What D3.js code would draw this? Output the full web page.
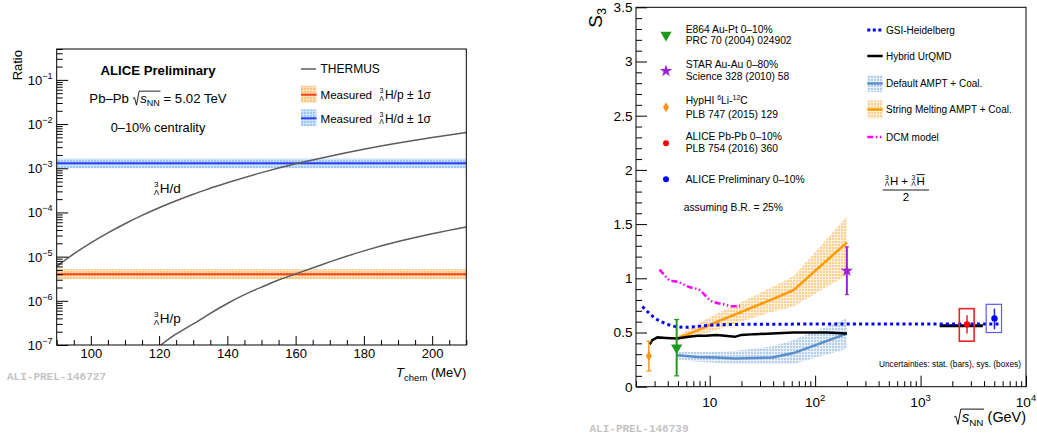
<!DOCTYPE html>
<html><head><meta charset="utf-8">
<script src="https://cdn.jsdelivr.net/npm/d3@7"></script>
<style>
body{margin:0;background:#fff}
svg{display:block;font-family:"Liberation Sans",Arial,Helvetica,sans-serif}
</style>
</head><body>
<svg id="c" width="1037" height="442"></svg>
<script>
// ================= LEFT PANEL DATA =================
const tHd = [90,95,100,105,110,115,120,125,130,135,140,150,160,170,180,190,200,210];
const thermusHd = [6.0e-6,1.15e-5,2.04e-5,3.44e-5,5.55e-5,8.57e-5,1.28e-4,1.84e-4,2.58e-4,3.52e-4,4.72e-4,7.96e-4,1.26e-3,1.88e-3,2.7e-3,3.72e-3,4.97e-3,6.46e-3];
const tHp = [120.5,125,130,135,140,145,150,155,160,170,180,190,200,210];
const thermusHp = [1.0e-7,1.78e-7,3.0e-7,5.2e-7,8.7e-7,1.38e-6,2.04e-6,2.95e-6,4.07e-6,7.6e-6,1.35e-5,2.19e-5,3.3e-5,4.7e-5];
const measHp = [3.1e-6, 4.0e-6, 5.2e-6];   // low, central, high
const measHd = [1.0e-3, 1.3e-3, 1.65e-3];
const leftXTicks = [100,120,140,160,180,200];
const leftYTicks = [1e-7,1e-6,1e-5,1e-4,1e-3,1e-2,1e-1];
const leftYExp = ["−7","−6","−5","−4","−3","−2","−1"];

// ================= RIGHT PANEL DATA =================
const gsiX = [2.3,2.67,3.0,3.46,4.0,4.45,5.0,5.96,7.0,8.5,10,13.2,20,50,200,1000,5500];
const gsiY = [0.74,0.677,0.635,0.60,0.575,0.56,0.552,0.548,0.552,0.56,0.566,0.572,0.575,0.577,0.578,0.578,0.578];
const urqmdX = [2.7,2.85,3.2,3.85,4.9,6.3,7.7,9.2,11.5,14,17.3,20,27,39,62.4,130,200];
const urqmdY = [0.39,0.43,0.455,0.45,0.445,0.46,0.47,0.47,0.478,0.47,0.46,0.478,0.485,0.49,0.50,0.50,0.49];
const urqmdLhcX = [1520,3900];
const urqmdLhcY = [0.563,0.563];
const amptX = [4.9,7.7,11.5,17.3,39,62.4,200];
const amptDefY  = [0.29,0.275,0.27,0.26,0.27,0.31,0.49];
const amptDefLo = [0.25,0.23,0.22,0.21,0.21,0.21,0.35];
const amptDefHi = [0.32,0.32,0.32,0.33,0.37,0.43,0.63];
const amptSmY  = [0.445,0.52,0.595,0.665,0.805,0.89,1.33];
const amptSmLo = [0.425,0.47,0.52,0.58,0.69,0.74,1.03];
const amptSmHi = [0.465,0.58,0.67,0.75,0.92,1.02,1.57];
const dcmX = [3.35,3.8,4.2,4.45,5.0,6.4,8.1,8.9,10,11.5,13,16.5,19.4];
const dcmY = [1.08,1.02,0.98,0.975,0.965,0.92,0.89,0.85,0.80,0.775,0.765,0.742,0.745];
const e864 = [4.86, 0.36], e864Err = [0.10, 0.62];
const star = [200, 1.07], starErr = [0.85, 1.29];
const hyphi = [2.65, 0.283], hyphiErr = [0.145, 0.42];
const alicePb = [2760, 0.575], alicePbStat = [0.49, 0.66], alicePbSys = [0.42, 0.72], alicePbBoxX = [2330, 3220];
const alicePre = [5020, 0.63], alicePreStat = [0.53, 0.72], alicePreSys = [0.50, 0.76], alicePreBoxX = [4190, 5860];
const rightYTicks = [0,0.5,1,1.5,2,2.5,3,3.5];
const rightYLabels = ["0","0.5","1","1.5","2","2.5","3","3.5"];
const rightXTicks = [10,100,1000,10000];
const rightXExp = ["","2","3","4"];

// ================= HELPERS =================
const svg = d3.select('#c');
svg.append('rect').attr('width',1037).attr('height',442).attr('fill','#fff');
const defs = svg.append('defs');
function pattern(id, base, line) {
  const p = defs.append('pattern').attr('id', id).attr('width',3).attr('height',3).attr('patternUnits','userSpaceOnUse');
  p.append('rect').attr('width',3).attr('height',3).attr('fill', line);
  p.append('rect').attr('x',1).attr('y',1).attr('width',2).attr('height',2).attr('fill', base);
}
pattern('pBlueL', '#9cc8f7', '#cfe4fc');
pattern('pOrgL', '#f8c47e', '#fde2bd');
pattern('pBlueR', '#b3cdea', '#eaf1f9');
pattern('pOrgR', '#fbcf92', '#fff1dc');

function addText(g, x, y, str, size, o = {}) {
  const t = g.append('text').attr('x', x).attr('y', y).style('font-size', size + 'px').text(str);
  if (o.anchor) t.attr('text-anchor', o.anchor);
  if (o.weight) t.style('font-weight', o.weight);
  if (o.fill) t.attr('fill', o.fill);
  if (o.italic) t.style('font-style', 'italic');
  if (o.family) t.style('font-family', o.family);
  return t;
}
function tw(t) { return t.node().getComputedTextLength(); }
// pre-superscript 3 over pre-subscript Λ, as one text element
function hyper(g, x, y, size) {
  const s = size * 0.6;
  const t = g.append('text').style('font-size', s + 'px');
  t.append('tspan').attr('x', x).attr('y', y - size * 0.42).text('3');
  t.append('tspan').attr('x', x - size * 0.02).attr('y', y + size * 0.12).text('Λ');
  return x + size * 0.43;
}
function sqrtS(g, x, y, size) {
  const x0 = x + size * 0.55;
  const t = g.append('text').attr('x', x0).attr('y', y).style('font-size', size + 'px');
  t.append('tspan').style('font-style', 'italic').text('s');
  t.append('tspan').attr('dy', size * 0.28).style('font-size', (size * 0.68) + 'px').text('NN');
  const w = tw(t);
  g.append('path')
    .attr('d', `M${x},${y - size*0.3} L${x + size*0.12},${y - size*0.37} L${x + size*0.27},${y + size*0.2} L${x + size*0.47},${y - size*0.86} L${x0 + w + size*0.05},${y - size*0.86}`)
    .attr('fill', 'none').attr('stroke', '#000').attr('stroke-width', Math.max(0.8, size * 0.065));
  return x0 + w;
}

// ================= LEFT PANEL =================
const xL = d3.scaleLinear().domain([90, 210]).range([56.7, 466.3]);
const yL = d3.scaleLog().domain([1e-7, 0.5]).range([345, 49]);
const L = svg.append('g');
defs.append('clipPath').attr('id', 'clipL').append('rect')
  .attr('x', 56.7).attr('y', 49).attr('width', 409.6).attr('height', 296);
const Lp = L.append('g').attr('clip-path', 'url(#clipL)');

function band(arr, fillId, color) {
  Lp.append('rect').attr('x', xL(90)).attr('width', xL(210) - xL(90))
    .attr('y', yL(arr[2])).attr('height', yL(arr[0]) - yL(arr[2])).attr('fill', `url(#${fillId})`);
  Lp.append('line').attr('x1', xL(90)).attr('x2', xL(210)).attr('y1', yL(arr[1])).attr('y2', yL(arr[1]))
    .attr('stroke', color).attr('stroke-width', 2);
}
band(measHd, 'pBlueL', '#2f3cff');
band(measHp, 'pOrgL', '#f2401c');

const lineL = d3.line().x(d => xL(d[0])).y(d => yL(d[1])).curve(d3.curveNatural);
Lp.append('path').attr('d', lineL(tHd.map((t, i) => [t, thermusHd[i]])))
  .attr('fill', 'none').attr('stroke', '#5c5c5c').attr('stroke-width', 1.5);
Lp.append('path').attr('d', lineL(tHp.map((t, i) => [t, thermusHp[i]])))
  .attr('fill', 'none').attr('stroke', '#5c5c5c').attr('stroke-width', 1.5);

// axes
const lMinorX = d3.range(90, 211, 5).filter(v => v % 20 !== 0);
L.append('g').attr('transform', `translate(0,345)`)
  .call(d3.axisBottom(xL).tickValues(lMinorX).tickSize(-5).tickFormat(''))
  .call(g => g.select('.domain').remove());
L.append('g').attr('transform', `translate(0,345)`)
  .call(d3.axisBottom(xL).tickValues(leftXTicks).tickSize(-9).tickPadding(4).tickFormat(d3.format('d')))
  .call(g => g.select('.domain').remove())
  .call(g => g.selectAll('text').style('font-size', '13px').attr('fill', '#000').style('font-family', '"Liberation Sans",Arial,sans-serif'));
const lMinorY = [];
for (let e = -7; e <= -1; e++) for (let m = 2; m <= 9; m++) { const v = m * Math.pow(10, e); if (v <= 0.5) lMinorY.push(v); }
L.append('g').attr('transform', `translate(56.7,0)`)
  .call(d3.axisLeft(yL).tickValues(lMinorY).tickSize(-6).tickFormat(''))
  .call(g => g.select('.domain').remove());
L.append('g').attr('transform', `translate(56.7,0)`)
  .call(d3.axisLeft(yL).tickValues(leftYTicks).tickSize(-11.5).tickFormat(''))
  .call(g => g.select('.domain').remove());
leftYTicks.forEach((v, i) => {
  const t = L.append('text').attr('x', 52.5).attr('y', yL(v) + 5).attr('text-anchor', 'end').style('font-size', '13px');
  t.append('tspan').text('10');
  t.append('tspan').attr('dy', -6).style('font-size', '9px').text(leftYExp[i]);
});
L.append('rect').attr('x', 56.7).attr('y', 49).attr('width', 409.6).attr('height', 296)
  .attr('fill', 'none').attr('stroke', '#000').attr('stroke-width', 1);

// axis titles
addText(L, 0, 0, 'Ratio', 13, { anchor: 'end' }).attr('transform', 'translate(21.5,50) rotate(-90)');
{
  const g = L.append('g');
  const t = g.append('text').attr('x', 0).attr('y', 0).style('font-size', '13px');
  t.append('tspan').style('font-style', 'italic').text('T');
  t.append('tspan').attr('dy', 4).style('font-size', '9.5px').text('chem');
  t.append('tspan').attr('dy', -4).text(' (MeV)');
  const w = tw(t);
  g.attr('transform', `translate(${466.3 - w},376.5)`);
}
addText(L, 7, 380, 'ALI-PREL-146727', 11, { fill: '#c4c4c4', weight: 'bold', family: '"Liberation Mono","Courier New",monospace' });

// annotations
addText(L, 158, 74.5, 'ALICE Preliminary', 13.2, { anchor: 'middle', weight: 'bold' });
{
  const g = L.append('g');
  const fs = 13.2;
  const t1 = addText(g, 0, 0, 'Pb–Pb', fs);
  let x = tw(t1) + fs * 0.3;
  x = sqrtS(g, x, 0, fs);
  const t2 = addText(g, x + fs * 0.28, 0, '= 5.02 TeV', fs);
  const total = x + fs * 0.28 + tw(t2);
  g.attr('transform', `translate(${158 - total / 2},102.5)`);
}
addText(L, 158, 131.5, '0–10% centrality', 12.8, { anchor: 'middle' });

// curve labels
{
  let x = hyper(L, 154, 193, 13.5); addText(L, x, 193, 'H/d', 13.5);
  x = hyper(L, 154, 323, 13.5); addText(L, x, 323, 'H/p', 13.5);
}

// legend
L.append('line').attr('x1', 301).attr('x2', 316).attr('y1', 69).attr('y2', 69).attr('stroke', '#5c5c5c').attr('stroke-width', 1.5);
addText(L, 320.5, 73.3, 'THERMUS', 12);
[[measHp, 'pOrgL', '#f2401c', 94.7, 'H/p ± 1σ'], [measHd, 'pBlueL', '#2f3cff', 118.3, 'H/d ± 1σ']].forEach(r => {
  L.append('rect').attr('x', 301).attr('y', r[3] - 9).attr('width', 15.5).attr('height', 17).attr('fill', `url(#${r[1]})`);
  L.append('line').attr('x1', 301).attr('x2', 316.5).attr('y1', r[3]).attr('y2', r[3]).attr('stroke', r[2]).attr('stroke-width', 2);
  const by = r[3] + 4.3;
  const t = L.append('text').style('font-size', '12px');
  const m = t.append('tspan').attr('x', 320.5).attr('y', by).style('font-size', '11.6px').text('Measured');
  const px = 320.5 + m.node().getComputedTextLength() + 7.5;
  t.append('tspan').attr('x', px).attr('y', by - 5.6).style('font-size', '7px').text('3');
  t.append('tspan').attr('x', px - 0.2).attr('y', by + 1.8).style('font-size', '7px').text('Λ');
  t.append('tspan').attr('x', px + 5.4).attr('y', by).text(r[4]);
});

// ================= RIGHT PANEL =================
const xR = d3.scaleLog().domain([2, 10000]).range([636, 1026]);
const yR = d3.scaleLinear().domain([0, 3.5]).range([386.7, 7.3]);
const R = svg.append('g');
defs.append('clipPath').attr('id', 'clipR').append('rect')
  .attr('x', 636).attr('y', 7.3).attr('width', 390).attr('height', 379.4);
const Rp = R.append('g').attr('clip-path', 'url(#clipR)');

const areaR = d3.area().x(d => xR(d[0])).y0(d => yR(d[1])).y1(d => yR(d[2]));
const lineR = d3.line().x(d => xR(d[0])).y(d => yR(d[1]));
Rp.append('path').attr('d', areaR(amptX.map((x, i) => [x, amptDefLo[i], amptDefHi[i]]))).attr('fill', 'url(#pBlueR)');
Rp.append('path').attr('d', areaR(amptX.map((x, i) => [x, amptSmLo[i], amptSmHi[i]]))).attr('fill', 'url(#pOrgR)');
Rp.append('path').attr('d', lineR(amptX.map((x, i) => [x, amptDefY[i]])))
  .attr('fill', 'none').attr('stroke', '#5b8fcb').attr('stroke-width', 2.5);
Rp.append('path').attr('d', lineR(amptX.map((x, i) => [x, amptSmY[i]])))
  .attr('fill', 'none').attr('stroke', '#ff9a00').attr('stroke-width', 2.5);
Rp.append('path').attr('d', lineR(urqmdX.map((x, i) => [x, urqmdY[i]])))
  .attr('fill', 'none').attr('stroke', '#000').attr('stroke-width', 2.5);
Rp.append('path').attr('d', lineR(urqmdLhcX.map((x, i) => [x, urqmdLhcY[i]])))
  .attr('fill', 'none').attr('stroke', '#000').attr('stroke-width', 3);
Rp.append('path').attr('d', d3.line().x(d => xR(d[0])).y(d => yR(d[1])).curve(d3.curveMonotoneX)(dcmX.map((x, i) => [x, dcmY[i]])))
  .attr('fill', 'none').attr('stroke', '#ff00ff').attr('stroke-width', 2.5).attr('stroke-dasharray', '6,2.5,1.5,2.5,1.5,2.5');
Rp.append('path').attr('d', d3.line().x(d => xR(d[0])).y(d => yR(d[1])).curve(d3.curveMonotoneX)(gsiX.map((x, i) => [x, gsiY[i]])))
  .attr('fill', 'none').attr('stroke', '#0000ff').attr('stroke-width', 3).attr('stroke-dasharray', '3,3.2');

function errBar(g, x, lo, hi, color, w, cap) {
  g.append('line').attr('x1', xR(x)).attr('x2', xR(x)).attr('y1', yR(lo)).attr('y2', yR(hi)).attr('stroke', color).attr('stroke-width', w);
  if (cap) [lo, hi].forEach(v => g.append('line').attr('x1', xR(x) - cap).attr('x2', xR(x) + cap)
    .attr('y1', yR(v)).attr('y2', yR(v)).attr('stroke', color).attr('stroke-width', 1.2));
}
function sysBox(g, bx, sys, color, w) {
  g.append('rect').attr('x', xR(bx[0])).attr('y', yR(sys[1])).attr('width', xR(bx[1]) - xR(bx[0]))
    .attr('height', yR(sys[0]) - yR(sys[1])).attr('fill', 'none').attr('stroke', color).attr('stroke-width', w);
}
const triDown = d3.symbol().type(d3.symbolTriangle).size(55)();
const starSym = d3.symbol().type(d3.symbolStar).size(48)();
const diamond = 'M0,-5L3,0L0,5L-3,0Z';
function marker(g, path, x, y, color, rot) {
  g.append('path').attr('d', path).attr('fill', color)
    .attr('transform', `translate(${x},${y})${rot ? ' rotate(180)' : ''}`);
}
errBar(R, e864[0], e864Err[0], e864Err[1], '#1f9a1f', 2, 2.5);
marker(R, triDown, xR(e864[0]), yR(e864[1]), '#1f9a1f', true);
errBar(R, star[0], starErr[0], starErr[1], '#a020e0', 2, 2);
marker(R, starSym, xR(star[0]), yR(star[1]), '#a020e0');
errBar(R, hyphi[0], hyphiErr[0], hyphiErr[1], '#f7941d', 1.5, 2.5);
marker(R, diamond, xR(hyphi[0]), yR(hyphi[1]), '#f7941d');
sysBox(R, alicePbBoxX, alicePbSys, '#ee2222', 1.6);
errBar(R, alicePb[0], alicePbStat[0], alicePbStat[1], '#ee2222', 1.5);
R.append('circle').attr('cx', xR(alicePb[0])).attr('cy', yR(alicePb[1])).attr('r', 3.2).attr('fill', '#ff0000');
sysBox(R, alicePreBoxX, alicePreSys, '#5a5aff', 1.2);
errBar(R, alicePre[0], alicePreStat[0], alicePreStat[1], '#2020ff', 1.5);
R.append('circle').attr('cx', xR(alicePre[0])).attr('cy', yR(alicePre[1])).attr('r', 3.2).attr('fill', '#0000ff');

// axes
const rMinorY = d3.range(0, 3.5001, 0.1).map(v => +v.toFixed(2)).filter(v => Math.abs(v * 2 - Math.round(v * 2)) > 1e-6);
R.append('g').attr('transform', 'translate(636,0)')
  .call(d3.axisLeft(yR).tickValues(rMinorY).tickSize(-6).tickFormat(''))
  .call(g => g.select('.domain').remove());
R.append('g').attr('transform', 'translate(636,0)')
  .call(d3.axisLeft(yR).tickValues(rightYTicks).tickSize(-11).tickPadding(3.5).tickFormat((d, i) => rightYLabels[i]))
  .call(g => g.select('.domain').remove())
  .call(g => g.selectAll('text').style('font-size', '13.6px').attr('fill', '#000').style('font-family', '"Liberation Sans",Arial,sans-serif'));
const rMinorX = [];
for (let e = 0; e <= 3; e++) for (let m = 1; m <= 9; m++) { const v = m * Math.pow(10, e); if (v >= 2 && v < 10000 && m !== 1) rMinorX.push(v); }
R.append('g').attr('transform', 'translate(0,386.7)')
  .call(d3.axisBottom(xR).tickValues(rMinorX).tickSize(-5.5).tickFormat(''))
  .call(g => g.select('.domain').remove());
R.append('g').attr('transform', 'translate(0,386.7)')
  .call(d3.axisBottom(xR).tickValues(rightXTicks).tickSize(-11).tickFormat(''))
  .call(g => g.select('.domain').remove());
rightXTicks.forEach((v, i) => {
  const t = R.append('text').attr('x', xR(v)).attr('y', 406.5).attr('text-anchor', 'middle').style('font-size', '13.6px');
  t.append('tspan').text('10');
  if (rightXExp[i]) t.append('tspan').attr('dy', -6).style('font-size', '9.5px').text(rightXExp[i]);
});
R.append('rect').attr('x', 636).attr('y', 7.3).attr('width', 390).attr('height', 379.4)
  .attr('fill', 'none').attr('stroke', '#000').attr('stroke-width', 1);

// axis titles
{
  const t = R.append('text').attr('text-anchor', 'end').attr('transform', 'translate(601.5,8) rotate(-90)').style('font-size', '19px');
  t.append('tspan').text('S');
  t.append('tspan').attr('dy', 4).style('font-size', '12.5px').text('3');
}
{
  const g = R.append('g');
  const fs = 14.4;
  let x = sqrtS(g, 0, 0, fs);
  const t = addText(g, x + fs * 0.3, 0, '(GeV)', fs);
  const total = x + fs * 0.3 + tw(t);
  g.attr('transform', `translate(${1026 - total},421.5)`);
}
addText(R, 589.5, 431.8, 'ALI-PREL-146739', 11, { fill: '#c4c4c4', weight: 'bold', family: '"Liberation Mono","Courier New",monospace' });

// left legend of right panel
const lgX = 685.7, lgM = 666, fsL = 10.3;
marker(R, triDown, lgM, 35, '#1f9a1f', true);
addText(R, lgX, 32.7, 'E864 Au-Pt 0–10%', fsL);
addText(R, lgX, 43.7, 'PRC 70 (2004) 024902', fsL);
marker(R, starSym, lgM, 71, '#a020e0');
addText(R, lgX, 68.4, 'STAR Au-Au 0–80%', fsL);
addText(R, lgX, 79.7, 'Science 328 (2010) 58', fsL);
marker(R, diamond, lgM, 107.3, '#f7941d');
{
  const t = R.append('text').attr('x', lgX).attr('y', 104.4).style('font-size', fsL + 'px');
  t.append('tspan').text('HypHI ');
  t.append('tspan').attr('dy', -4).style('font-size', '7px').text('6');
  t.append('tspan').attr('dy', 4).text('Li-');
  t.append('tspan').attr('dy', -4).style('font-size', '7px').text('12');
  t.append('tspan').attr('dy', 4).text('C');
}
addText(R, lgX, 118, 'PLB 747 (2015) 129', fsL);
R.append('circle').attr('cx', lgM).attr('cy', 143.3).attr('r', 3).attr('fill', '#ff0000');
addText(R, lgX, 140.4, 'ALICE Pb-Pb 0–10%', fsL);
addText(R, lgX, 151.7, 'PLB 754 (2016) 360', fsL);
R.append('circle').attr('cx', lgM).attr('cy', 179.3).attr('r', 3).attr('fill', '#0000ff');
addText(R, lgX, 182.7, 'ALICE Preliminary 0–10%', fsL);
addText(R, 683.7, 210.7, 'assuming B.R. = 25%', fsL);

// right legend
const rgX = 886, sx0 = 867.3, sx1 = 882.7, fsR = 10;
R.append('line').attr('x1', sx0).attr('x2', sx1).attr('y1', 30).attr('y2', 30).attr('stroke', '#0000ff').attr('stroke-width', 3).attr('stroke-dasharray', '3,2.5');
addText(R, rgX, 33.6, 'GSI-Heidelberg', fsR);
R.append('line').attr('x1', sx0).attr('x2', sx1).attr('y1', 56).attr('y2', 56).attr('stroke', '#000').attr('stroke-width', 2.5);
addText(R, rgX, 59.6, 'Hybrid UrQMD', fsR);
R.append('rect').attr('x', sx0).attr('y', 75).attr('width', sx1 - sx0).attr('height', 17).attr('fill', 'url(#pBlueR)');
R.append('line').attr('x1', sx0).attr('x2', sx1).attr('y1', 83.5).attr('y2', 83.5).attr('stroke', '#5b8fcb').attr('stroke-width', 2.5);
addText(R, rgX, 87.1, 'Default AMPT + Coal.', fsR);
R.append('rect').attr('x', sx0).attr('y', 100.5).attr('width', sx1 - sx0).attr('height', 18).attr('fill', 'url(#pOrgR)');
R.append('line').attr('x1', sx0).attr('x2', sx1).attr('y1', 109.5).attr('y2', 109.5).attr('stroke', '#ff9a00').attr('stroke-width', 2.5);
addText(R, rgX, 113.1, 'String Melting AMPT + Coal.', fsR);
R.append('line').attr('x1', sx0).attr('x2', sx1).attr('y1', 137).attr('y2', 137).attr('stroke', '#ff00ff').attr('stroke-width', 2.5).attr('stroke-dasharray', '6,2.5,1.5,2.5,1.5,2.5');
addText(R, rgX, 140.6, 'DCM model', fsR);

// formula
{
  const fs = 11.5, by = 184.5;
  let x = hyper(R, 885, by, fs);
  const h1 = addText(R, x, by, 'H', fs);
  x += tw(h1);
  const p = addText(R, x + 3, by, '+', fs);
  x = x + 3 + tw(p) + 3.5;
  x = hyper(R, x, by, fs);
  const h2 = addText(R, x, by, 'H', fs);
  R.append('line').attr('x1', x).attr('x2', x + tw(h2)).attr('y1', by - fs * 0.86).attr('y2', by - fs * 0.86).attr('stroke', '#000').attr('stroke-width', 0.9);
  R.append('line').attr('x1', 882.7).attr('x2', 929).attr('y1', 190).attr('y2', 190).attr('stroke', '#000').attr('stroke-width', 0.9);
  addText(R, 906, 201, '2', fs, { anchor: 'middle' });
}
addText(R, 1021, 366.7, 'Uncertainties: stat. (bars), sys. (boxes)', 8.3, { anchor: 'end' });
</script>
</body></html>
